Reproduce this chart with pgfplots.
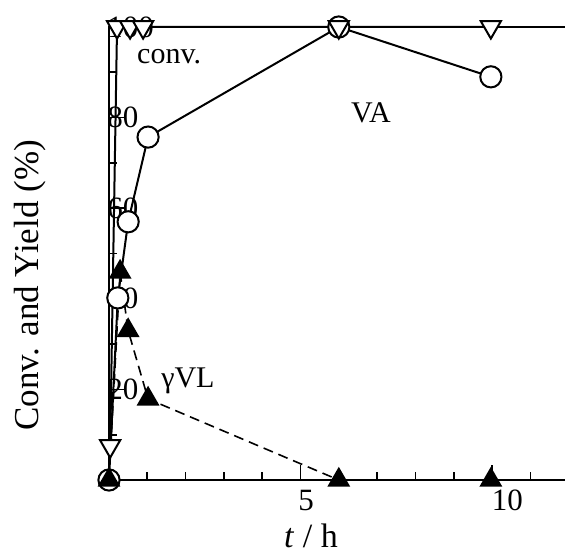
\documentclass[border=0pt]{standalone}
\usepackage{fontspec}
\setmainfont{Liberation Serif}
\usepackage{pgfplots}
\pgfplotsset{compat=1.18}
\begin{document}
\begin{tikzpicture}
\begin{axis}[
  scale only axis, width=229.8pt, height=226.5pt,
  xmin=0, xmax=12, ymin=0, ymax=100,
  clip=false,
  axis line style={line width=1pt},
  every tick/.style={line width=0.8pt, black},
  tick align=inside,
  xtick pos=bottom, ytick pos=left,
  xtick={5,10}, xticklabels={,},
  minor xtick={1,2,3,4,6,7,8,9,11},
  extra x ticks={5.15,10.4}, extra x tick labels={5,10},
  extra x tick style={major tick length=0pt},
  ytick={0,20,40,60,80,100}, yticklabels={,20,40,60,80,100},
  minor y tick num=1,
  major tick length=7.5pt, minor tick length=4pt,
  /pgf/number format/assume math mode=true,
  tick label style={font=\fontsize{15.5}{18}\selectfont},
  xticklabel style={yshift=-1.5pt},
  yticklabel style={anchor=west, inner sep=0pt, xshift=-1pt},
  xlabel={\textit{t} / h},
  xlabel style={font=\fontsize{17}{20}\selectfont, at={(axis description cs:0.4395,-0.148)}, anchor=base},
  ylabel={Conv. and Yield (\%)},
  ylabel style={font=\fontsize{17.5}{21}\selectfont, at={(axis description cs:-0.172,0.43)}, anchor=center},
]
\coordinate (O) at (rel axis cs:0,0);
% VA
\addplot[black, line width=1pt, mark=*, mark size=5.3pt, mark options={fill=white, draw=black, solid}]
  coordinates {(0,0) (0.23,40.2) (0.5,57) (1.02,75.7) (6.0,100) (9.97,89)};
% conv.
\addplot[black, line width=1pt, mark=triangle*, mark size=5.8pt, mark options={rotate=180, fill=white, draw=black, solid}]
  coordinates {(0.03,7.5) (0.21,100) (0.55,100) (0.89,100) (6.0,100) (9.97,100)};
% gamma-VL
\addplot[black, line width=0.8pt, dash pattern=on 5pt off 3pt, mark=triangle*, mark size=5.8pt, mark options={fill=black, draw=black, solid}]
  coordinates {(0,0) (0.29,45.9) (0.5,33) (1.02,17.9) (6.0,0) (9.97,0)};
\node[anchor=base, font=\fontsize{15}{18}\selectfont] at (axis cs:1.57,92.05) {conv.};
\node[anchor=base, font=\fontsize{15}{18}\selectfont] at (axis cs:6.84,79.0) {VA};
\node[anchor=base, font=\fontsize{15}{18}\selectfont] at (axis cs:2.06,20.5) {γVL};
\end{axis}
\pgfresetboundingbox
\useasboundingbox ([shift={(-54.5pt,-36pt)}]O) rectangle ([shift={(228pt,240pt)}]O);
\end{tikzpicture}
\end{document}
